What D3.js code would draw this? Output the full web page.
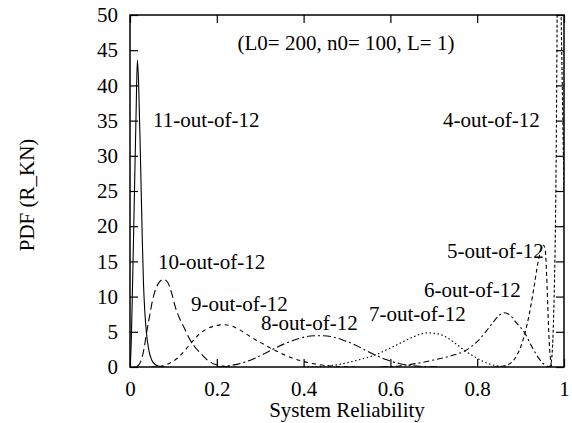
<!DOCTYPE html>
<html>
<head>
<meta charset="utf-8">
<script src="https://cdn.jsdelivr.net/npm/d3@7"></script>
<style>
  body { margin: 0; background: #fff; }
  svg { display: block; }
  text { font-family: "Liberation Serif", "Times New Roman", serif; fill: #000; }
</style>
</head>
<body>
<svg id="chart" width="572" height="423"></svg>
<script>
// curves, [reliability, pdf]
var k11 = [[0,0],[0.002,2],[0.006,12],[0.010,24],[0.014,36],[0.017,43.6],[0.020,40],[0.024,30],[0.028,19],[0.031,12],[0.034,8],[0.038,4.8],[0.043,2.5],[0.050,1.0],[0.058,0.35],[0.068,0.08],[0.080,0]];
var k10 = [[0.015,0],[0.025,0.8],[0.032,2.5],[0.038,4.8],[0.045,7.2],[0.052,9.5],[0.060,11.2],[0.068,12.1],[0.077,12.45],[0.087,12.0],[0.096,10.5],[0.104,8.6],[0.115,6.8],[0.127,5.3],[0.138,3.9],[0.150,2.8],[0.165,1.8],[0.180,0.9],[0.195,0.4],[0.210,0.15],[0.230,0]];
var k9 = [[0.050,0],[0.070,0.1],[0.090,0.5],[0.110,1.3],[0.130,2.6],[0.142,3.5],[0.160,4.7],[0.180,5.5],[0.200,5.9],[0.217,6.0],[0.235,5.8],[0.255,5.2],[0.275,4.4],[0.300,3.5],[0.330,2.5],[0.360,1.6],[0.390,0.95],[0.420,0.5],[0.450,0.22],[0.480,0.08],[0.520,0]];
var k8 = [[0.200,0],[0.230,0.2],[0.260,0.6],[0.290,1.3],[0.310,1.9],[0.330,2.55],[0.360,3.4],[0.390,4.05],[0.415,4.4],[0.440,4.45],[0.465,4.3],[0.490,3.85],[0.520,3.1],[0.545,2.3],[0.565,1.7],[0.590,1.05],[0.620,0.5],[0.650,0.2],[0.680,0.05],[0.710,0]];
var k7 = [[0.400,0],[0.440,0.1],[0.480,0.35],[0.520,0.9],[0.550,1.4],[0.565,1.7],[0.590,2.4],[0.620,3.3],[0.650,4.2],[0.685,4.85],[0.710,4.7],[0.735,4.0],[0.755,3.1],[0.772,2.3],[0.790,1.6],[0.810,0.9],[0.830,0.4],[0.850,0.12],[0.870,0]];
var k6 = [[0.580,0],[0.620,0.15],[0.660,0.5],[0.700,1.0],[0.740,1.6],[0.772,2.3],[0.800,3.6],[0.830,5.8],[0.850,7.3],[0.862,7.7],[0.875,7.4],[0.890,6.3],[0.910,4.8],[0.925,3.0],[0.940,1.4],[0.950,0.6],[0.960,0.15],[0.970,0]];
var k5 = [[0.840,0],[0.870,0.3],[0.890,1.5],[0.900,2.8],[0.910,4.8],[0.920,7.5],[0.930,11],[0.940,14.8],[0.948,16.9],[0.953,17.3],[0.957,16.5],[0.960,13],[0.963,8],[0.966,3.5],[0.969,1.0],[0.972,0]];
var k4 = [[0.966,0],[0.970,0.5],[0.975,5],[0.978,12],[0.980,19],[0.982,30],[0.984,48],[0.985,58],[0.988,66],[0.991,64],[0.9935,50],[0.996,40],[1.0,25]];

var seriesNames = ["11-out-of-12","10-out-of-12","9-out-of-12","8-out-of-12","7-out-of-12","6-out-of-12","5-out-of-12","4-out-of-12"];
var seriesData = [k11, k10, k9, k8, k7, k6, k5, k4];
var dashes = ["", "8,4", "4,4", "8,3,2,3", "1.5,2.5", "6,3,2,3", "4,3", "3,2"];
var labelPos = [[153,127],[158,269],[191,311],[261,330],[369,321],[424,297],[447,258],[443,127]];

var xTicks = [0, 0.2, 0.4, 0.6, 0.8, 1];
var yTicks = [0, 5, 10, 15, 20, 25, 30, 35, 40, 45, 50];

var padL = 130, padR = 564, padT = 15, padB = 367;
var svg = d3.select("#chart");

var x = d3.scaleLinear().domain([0, 1]).range([padL, padR]);
var y = d3.scaleLinear().domain([0, 50]).range([padB, padT]);

svg.append("clipPath").attr("id", "plotclip")
  .append("rect").attr("x", padL).attr("y", padT).attr("width", padR - padL).attr("height", padB - padT);

function styleAxis(g) {
  g.select(".domain").remove();
  g.selectAll(".tick line").attr("stroke", "#000").attr("stroke-width", 1.2);
  g.selectAll("text").attr("font-size", 21).attr("font-family", "Liberation Serif");
}

svg.append("g").attr("transform", "translate(0," + padB + ")")
  .call(d3.axisBottom(x).tickValues(xTicks).tickSize(-8).tickPadding(14).tickFormat(d3.format("")))
  .call(styleAxis);
svg.append("g").attr("transform", "translate(0," + padT + ")")
  .call(d3.axisTop(x).tickValues(xTicks).tickSize(-8).tickFormat(""))
  .call(styleAxis);
svg.append("g").attr("transform", "translate(" + padL + ",0)")
  .call(d3.axisLeft(y).tickValues(yTicks).tickSize(-8).tickPadding(12))
  .call(styleAxis);
svg.append("g").attr("transform", "translate(" + padR + ",0)")
  .call(d3.axisRight(y).tickValues(yTicks).tickSize(-8).tickFormat(""))
  .call(styleAxis);

var line = d3.line()
  .curve(d3.curveMonotoneX)
  .x(function(d) { return x(d[0]); })
  .y(function(d) { return y(d[1]); });

svg.append("g").attr("clip-path", "url(#plotclip)")
  .selectAll("path").data(seriesData).enter()
  .append("path")
  .attr("d", line)
  .attr("fill", "none")
  .attr("stroke", "#000")
  .attr("stroke-width", 1.1)
  .attr("stroke-dasharray", function(d, i) { return dashes[i]; });

svg.append("rect")
  .attr("x", padL).attr("y", padT).attr("width", padR - padL).attr("height", padB - padT)
  .attr("fill", "none").attr("stroke", "#000").attr("stroke-width", 1.5);

svg.selectAll(".lbl").data(seriesNames).enter()
  .append("text").attr("class", "lbl")
  .attr("x", function(d, i) { return labelPos[i][0]; })
  .attr("y", function(d, i) { return labelPos[i][1]; })
  .attr("font-size", 21)
  .text(function(d) { return d; });

svg.append("text").attr("x", 346).attr("y", 50).attr("text-anchor", "middle")
  .attr("font-size", 21).text("(L0= 200, n0= 100, L= 1)");

svg.append("text").attr("x", (padL + padR) / 2).attr("y", 417).attr("text-anchor", "middle")
  .attr("font-size", 21).text("System Reliability");

svg.append("text").attr("transform", "translate(34,195) rotate(-90)")
  .attr("text-anchor", "middle").attr("font-size", 21).text("PDF (R_KN)");
</script>
</body>
</html>
